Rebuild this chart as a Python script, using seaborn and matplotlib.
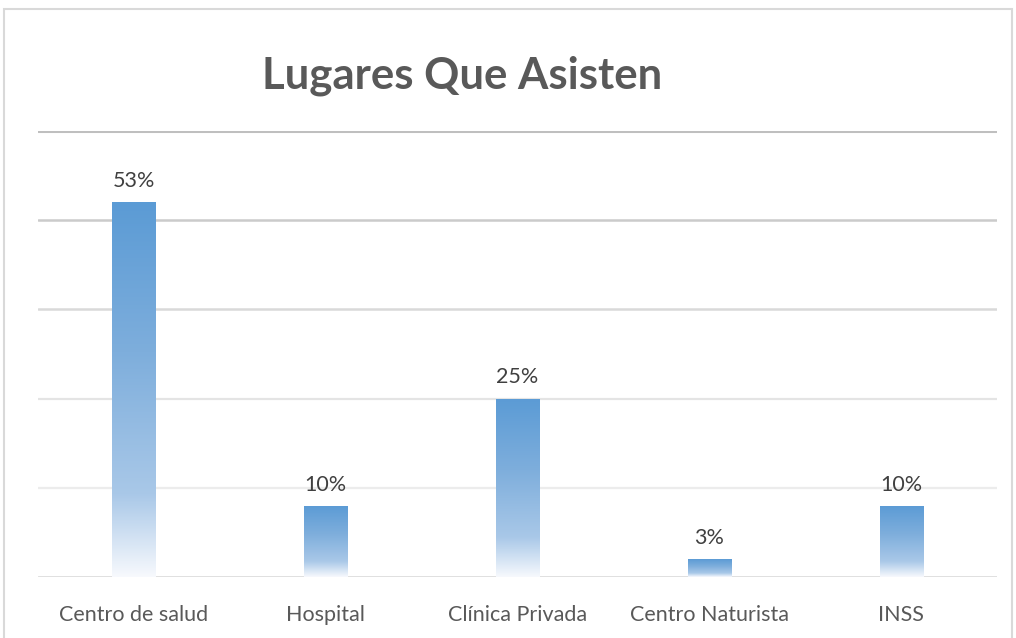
import numpy as np
import pandas as pd
import seaborn as sns
import matplotlib.pyplot as plt
from matplotlib.colors import LinearSegmentedColormap
from matplotlib.patches import Rectangle

sns.set_theme(style="white")
plt.rcParams['font.family'] = ['Lato', 'DejaVu Sans']

DPI = 100

# data: counts of people (40 total), labelled as percentages
lugares = ["Centro de salud", "Hospital", "Clínica Privada", "Centro Naturista", "INSS"]
conteo = [21, 4, 10, 1, 4]
etiquetas = ["53%", "10%", "25%", "3%", "10%"]
ticks_y = [0, 5, 10, 15, 20, 25]

df = pd.DataFrame({"lugar": lugares, "conteo": conteo})

fig = plt.figure(figsize=(10.16, 6.38), dpi=DPI)
ax = fig.add_axes([38 / 1016, 1 - 577 / 638, (997 - 38) / 1016, (577 - 131) / 638])

sns.barplot(data=df, x="lugar", y="conteo", ax=ax, width=0.225, color="#5B9BD5")

# gridlines, darker towards the top like the original
grid_colors = ["#d6d6d6", "#ececec", "#e4e4e4", "#d9d9d9", "#cbcbcb", "#bfbfbf"]
grid_lw = [1.8, 1.6, 1.6, 1.8, 1.8, 2.2]
for yv, c, lw in zip(ticks_y, grid_colors, grid_lw):
    ax.axhline(yv, color=c, lw=lw, zorder=0)

# gradient fill on each bar
cmap = LinearSegmentedColormap.from_list(
    "grad", [(0.0, "#f7f9fd"), (0.22, "#a9c8e8"), (0.6, "#7eaedc"), (1.0, "#5B9BD5")])
grad = np.linspace(0, 1, 256).reshape(-1, 1)
for p, lab in zip(ax.patches, etiquetas):
    x, w, h = p.get_x(), p.get_width(), p.get_height()
    im = ax.imshow(grad, extent=[x, x + w, 0, h], origin="lower", aspect="auto",
                   cmap=cmap, zorder=2)
    im.set_clip_path(p)
    p.set_facecolor("none")
    p.set_edgecolor("none")
    ax.annotate(lab, (x + w / 2, h), xytext=(0, 8), textcoords="offset points",
                ha="center", va="bottom", fontsize=15.5, color="#404040")

ax.set_xlim(-0.5, 4.5)
ax.set_ylim(0, 25)
ax.set_yticks([])
ax.set_xlabel("")
ax.set_ylabel("")
ax.tick_params(axis="x", length=0, pad=20, labelsize=15.5, labelcolor="#595959")
for s in ax.spines.values():
    s.set_visible(False)

fig.text(462 / 1016, 1 - 76 / 638, "Lugares Que Asisten", ha="center", va="center",
         fontsize=31.5, fontweight="bold", color="#595959")

# chart border
fig.patches.append(Rectangle((4 / 1016, -0.05), 1008 / 1016, 1.05 - 9 / 638,
                             transform=fig.transFigure, fill=False,
                             edgecolor="#d9d9d9", lw=1.5))

plt.savefig("out.png", dpi=DPI)
